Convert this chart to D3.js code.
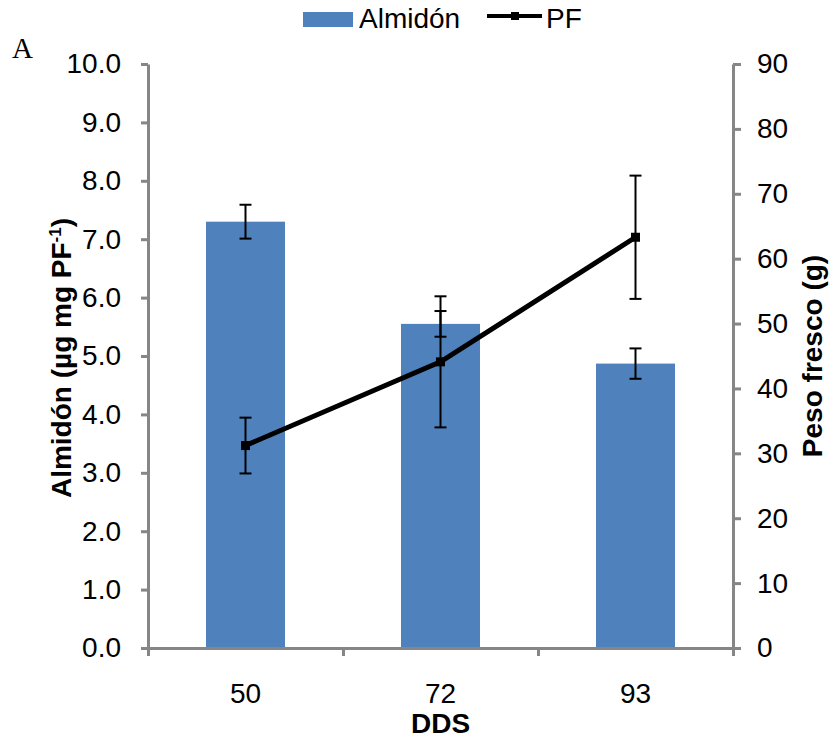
<!DOCTYPE html>
<html><head><meta charset="utf-8">
<script src="https://cdn.jsdelivr.net/npm/d3@7"></script>
<style>body{margin:0;background:#fff}svg{display:block}</style>
</head><body>
<script>
const categories = ["50", "72", "93"];
const almidon = [7.30, 5.55, 4.87];
const almidonErr = [0.29, 0.22, 0.26];
const pf = [31.2, 44.1, 63.3];
const pfErr = [4.3, 10.1, 9.5];
const leftTicks = [0,1,2,3,4,5,6,7,8,9,10];
const rightTicks = [0,10,20,30,40,50,60,70,80,90];

const W = 840, H = 740;
const m = {left:148, right:733, top:64, bottom:648};
const svg = d3.select("body").append("svg").attr("width", W).attr("height", H);
const font = "Liberation Sans, Arial, sans-serif";
const axisColor = "#868686";
const fs = 28;

const x = d3.scaleBand().domain(categories).range([m.left, m.right]).paddingInner(0).paddingOuter(0);
const yL = d3.scaleLinear().domain([0,10]).range([m.bottom, m.top]);
const yR = d3.scaleLinear().domain([0,90]).range([m.bottom, m.top]);

const barW = x.bandwidth()*0.405;
svg.selectAll("rect.bar").data(categories).join("rect")
  .attr("x", d => x(d) + x.bandwidth()/2 - barW/2)
  .attr("y", (d,i) => yL(almidon[i]))
  .attr("width", barW)
  .attr("height", (d,i) => yL(0) - yL(almidon[i]))
  .attr("fill", "#4F81BD");

function styleAxis(g){
  g.selectAll(".domain").attr("stroke", axisColor).attr("stroke-width", 3);
  g.selectAll(".tick line").attr("stroke", axisColor).attr("stroke-width", 3);
  g.selectAll(".tick text").attr("fill", "#000").attr("font-family", font).attr("font-size", fs);
}
const gL = svg.append("g").attr("transform", `translate(${m.left},0)`)
  .call(d3.axisLeft(yL).tickValues(leftTicks).tickFormat(d3.format(".1f")).tickSize(7).tickPadding(20).tickSizeOuter(0));
styleAxis(gL);
const gR = svg.append("g").attr("transform", `translate(${m.right},0)`)
  .call(d3.axisRight(yR).tickValues(rightTicks).tickFormat(d3.format("d")).tickSize(8).tickPadding(16).tickSizeOuter(0));
styleAxis(gR);
const xb = d3.scaleLinear().domain([0,3]).range([m.left, m.right]);
const gX = svg.append("g").attr("transform", `translate(0,${m.bottom})`)
  .call(d3.axisBottom(xb).tickValues([0,1,2,3]).tickFormat("").tickSize(8).tickSizeOuter(0));
styleAxis(gX);
svg.selectAll("text.cat").data(categories).join("text")
  .attr("x", d => x(d) + x.bandwidth()/2).attr("y", 703)
  .attr("text-anchor", "middle").attr("font-family", font).attr("font-size", fs).text(d => d);

const cap = 6;
const eb = svg.append("g").attr("stroke", "#000").attr("stroke-width", 2);
categories.forEach((c,i) => {
  const cx = x(c) + x.bandwidth()/2;
  const t = yL(almidon[i]+almidonErr[i]), b = yL(almidon[i]-almidonErr[i]);
  eb.append("line").attr("x1", cx).attr("x2", cx).attr("y1", t).attr("y2", b);
  eb.append("line").attr("x1", cx-cap).attr("x2", cx+cap).attr("y1", t).attr("y2", t);
  eb.append("line").attr("x1", cx-cap).attr("x2", cx+cap).attr("y1", b).attr("y2", b);
});
const line = d3.line().x((d,i) => x(categories[i]) + x.bandwidth()/2).y(d => yR(d));
svg.append("path").datum(pf).attr("d", line).attr("fill", "none").attr("stroke", "#000").attr("stroke-width", 5);
const eb2 = svg.append("g").attr("stroke", "#000").attr("stroke-width", 2);
categories.forEach((c,i) => {
  const cx = x(c) + x.bandwidth()/2;
  const t = yR(pf[i]+pfErr[i]), b = yR(pf[i]-pfErr[i]);
  eb2.append("line").attr("x1", cx).attr("x2", cx).attr("y1", t).attr("y2", b);
  eb2.append("line").attr("x1", cx-cap).attr("x2", cx+cap).attr("y1", t).attr("y2", t);
  eb2.append("line").attr("x1", cx-cap).attr("x2", cx+cap).attr("y1", b).attr("y2", b);
});
svg.selectAll("rect.mk").data(pf).join("rect")
  .attr("x", (d,i) => x(categories[i]) + x.bandwidth()/2 - 4.5)
  .attr("y", d => yR(d) - 4.5).attr("width", 9).attr("height", 9).attr("fill", "#000");

svg.append("text").attr("transform", "translate(71,358) rotate(-90)")
  .attr("text-anchor", "middle").attr("font-family", font).attr("font-size", fs).attr("font-weight", "bold")
  .html('Almidón (µg mg PF<tspan dy="-10" font-size="17">-1</tspan><tspan dy="10">)</tspan>');
svg.append("text").attr("transform", "translate(822,356) rotate(-90)")
  .attr("text-anchor", "middle").attr("font-family", font).attr("font-size", fs).attr("font-weight", "bold")
  .text("Peso fresco (g)");
svg.append("text").attr("x", x("72") + x.bandwidth()/2).attr("y", 733)
  .attr("text-anchor", "middle").attr("font-family", font).attr("font-size", fs).attr("font-weight", "bold").text("DDS");
svg.append("text").attr("x", 12).attr("y", 58).attr("font-family", "Liberation Serif, Times New Roman, serif").attr("font-size", 29).text("A");

const lg = svg.append("g");
lg.append("rect").attr("x", 303).attr("y", 12).attr("width", 50).attr("height", 15).attr("fill", "#4F81BD");
lg.append("text").attr("x", 359).attr("y", 28).attr("font-family", font).attr("font-size", fs).text("Almidón");
lg.append("line").attr("x1", 487).attr("x2", 542).attr("y1", 16).attr("y2", 16).attr("stroke", "#000").attr("stroke-width", 4);
lg.append("rect").attr("x", 511).attr("y", 12).attr("width", 8).attr("height", 8).attr("fill", "#000");
lg.append("text").attr("x", 546).attr("y", 28).attr("font-family", font).attr("font-size", fs).text("PF");
</script>
</body></html>
